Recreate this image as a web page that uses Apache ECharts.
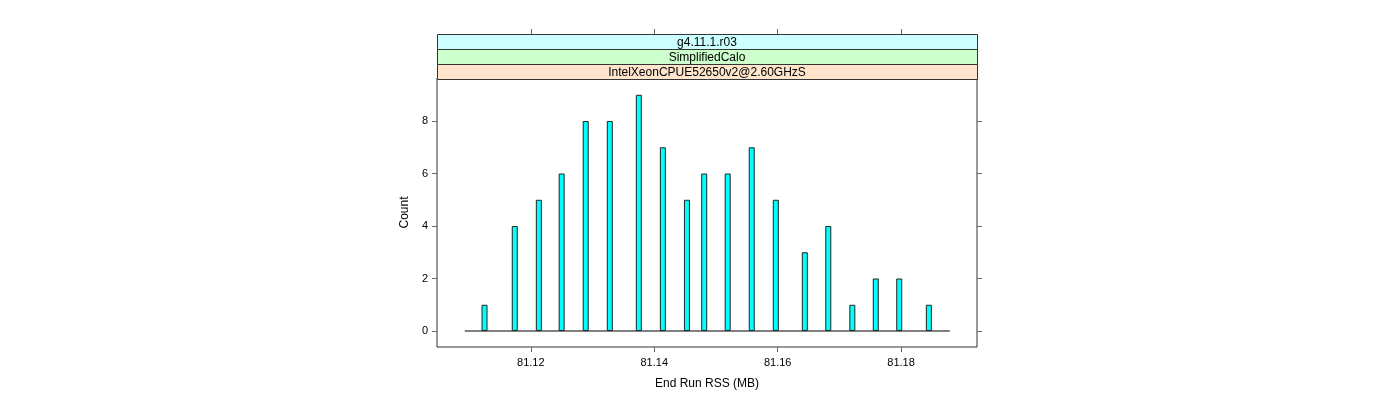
<!DOCTYPE html>
<html>
<head>
<meta charset="utf-8">
<script src="https://cdn.jsdelivr.net/npm/echarts@6/dist/echarts.min.js"></script>
<style>html,body{margin:0;padding:0;background:#fff}#c{width:1400px;height:400px}</style>
</head>
<body>
<div id="c"></div>
<script>
var rssValues = [81.1125, 81.1174, 81.1213, 81.1250, 81.1289, 81.1328, 81.1375, 81.1414, 81.1453, 81.1481, 81.1519, 81.1558, 81.1597, 81.1644, 81.1682, 81.1721, 81.1759, 81.1797, 81.1845];
var counts = [1, 4, 5, 6, 8, 8, 9, 7, 5, 6, 6, 7, 5, 3, 4, 1, 2, 2, 1];
var baselineRange = [81.1093, 81.1879];
var xTicks = [81.12, 81.14, 81.16, 81.18];
var yTicks = [0, 2, 4, 6, 8];
var stripLabels = ['g4.11.1.r03', 'SimplifiedCalo', 'IntelXeonCPUE52650v2@2.60GHzS'];
var stripColors = ['#CCFFFF', '#CCFFCC', '#FFE5CC'];

var chart = echarts.init(document.getElementById('c'));
var font = 'Liberation Sans, Arial, sans-serif';
var gl = 437, gr = 977, gt = 78, gb = 347;

var graphics = [];
for (var i = 0; i < stripLabels.length; i++) {
  var sy = 34 + i * 15;
  graphics.push({
    type: 'rect', shape: {x: gl + 0.5, y: sy + 0.5, width: gr - gl, height: 15},
    style: {fill: stripColors[i], stroke: '#333', lineWidth: 1}, z: 5
  });
  graphics.push({
    type: 'text', x: (gl + gr) / 2, y: sy + 8.5,
    style: {text: stripLabels[i], fill: '#000', font: '12px ' + font, textAlign: 'center', textVerticalAlign: 'middle'}, z: 6
  });
}

var pairs = rssValues.map(function (v, i) { return [v, counts[i]]; });

chart.setOption({
  animation: false,
  grid: {left: gl, top: gt, width: gr - gl, height: gb - gt, show: true, borderColor: '#333', borderWidth: 1, backgroundColor: 'transparent'},
  xAxis: [{
    type: 'value', min: 81.1048, max: 81.1923, position: 'bottom',
    name: 'End Run RSS (MB)', nameLocation: 'middle', nameGap: 31,
    nameTextStyle: {fontFamily: font, fontSize: 12, color: '#000'},
    axisLine: {show: false, onZero: false},
    splitLine: {show: false},
    axisTick: {show: true, inside: false, length: 5, lineStyle: {color: '#666'}, customValues: xTicks},
    axisLabel: {show: true, fontFamily: font, fontSize: 11, color: '#000', margin: 10, customValues: xTicks, formatter: function (v) { return v.toFixed(2); }}
  }, {
    type: 'value', min: 81.1048, max: 81.1923, position: 'top', offset: 44,
    axisLine: {show: false, onZero: false}, splitLine: {show: false},
    axisTick: {show: true, inside: false, length: 5, lineStyle: {color: '#666'}, customValues: xTicks},
    axisLabel: {show: false}
  }],
  yAxis: [{
    type: 'value', min: -0.61, max: 9.64, position: 'left',
    name: 'Count', nameLocation: 'middle', nameGap: 26, nameRotate: 90,
    nameTextStyle: {fontFamily: font, fontSize: 12, color: '#000'},
    axisLine: {show: false, onZero: false}, splitLine: {show: false},
    axisTick: {show: true, inside: false, length: 5, lineStyle: {color: '#666'}, customValues: yTicks},
    axisLabel: {show: true, fontFamily: font, fontSize: 11, color: '#000', margin: 9, customValues: yTicks}
  }, {
    type: 'value', min: -0.61, max: 9.64, position: 'right',
    axisLine: {show: false, onZero: false}, splitLine: {show: false},
    axisTick: {show: true, inside: false, length: 5, lineStyle: {color: '#666'}, customValues: yTicks},
    axisLabel: {show: false}
  }],
  series: [{
    type: 'line', xAxisIndex: 0, yAxisIndex: 0,
    data: [[baselineRange[0], 0], [baselineRange[1], 0]],
    symbol: 'none', lineStyle: {color: '#000', width: 1}, z: 1
  }, {
    type: 'bar', xAxisIndex: 0, yAxisIndex: 0,
    data: pairs, barWidth: 6,
    itemStyle: {color: '#00FFFF', borderColor: '#222', borderWidth: 1}, z: 2
  }],
  graphic: {elements: graphics}
});
</script>
</body>
</html>
